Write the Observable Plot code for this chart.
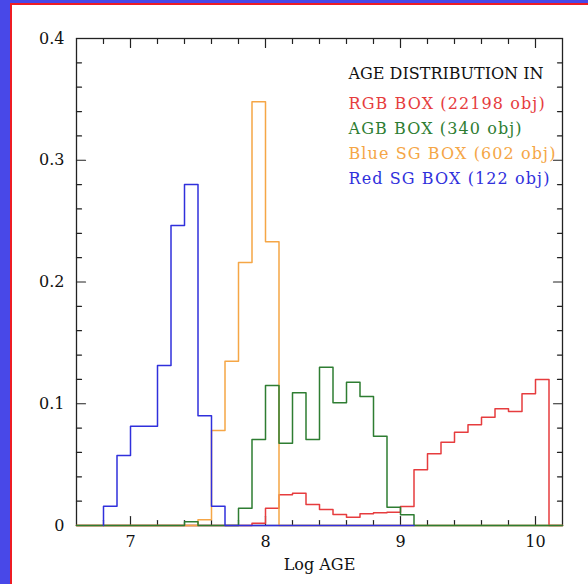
<!DOCTYPE html>
<html><head><meta charset="utf-8">
<script src="https://cdn.jsdelivr.net/npm/d3@7"></script>
<script src="https://cdn.jsdelivr.net/npm/@observablehq/plot@0.6"></script>
<style>
html,body{margin:0;padding:0;background:#4848e8;width:588px;height:584px;overflow:hidden;}
#panel{position:absolute;left:10px;top:3px;width:600px;height:600px;background:#fff;border-left:2px solid #ee1c24;border-top:2px solid #ee1c24;}
#chart{position:absolute;left:0;top:0;}
</style></head><body><div id="panel"></div><div id="chart"></div>
<script>
// bin edges (log age), 0.1 wide
const edgesFull = [6.6,6.7,6.8,6.9,7.0,7.1,7.2,7.3,7.4,7.5,7.6,7.7,7.8,7.9,8.0,8.1,8.2,8.3,8.4,8.5,8.6,8.7,8.8,8.9,9.0,9.1,9.2,9.3,9.4,9.5,9.6,9.7,9.8,9.9,10.0,10.1,10.2];
const edgesRedSG = [6.8,6.9,7.0,7.1,7.2,7.3,7.4,7.5,7.6,7.7,7.8,7.9,8.0,8.1,8.2,8.3,8.4,8.5,8.6,8.7,8.8,8.9,9.0,9.1];

// fractions per bin
const rgb = [0,0,0,0,0,0,0,0,0,0,0,0,0,0.0019,0.0142,0.0252,0.0265,0.0172,0.0131,0.009,0.0068,0.0096,0.0104,0.0109,0.0156,0.0457,0.0589,0.0684,0.0766,0.0827,0.089,0.0958,0.0936,0.1082,0.1199,0];
const agb = [0,0,0,0,0,0,0,0,0.003,0,0,0,0.0142,0.0706,0.115,0.0676,0.109,0.0706,0.130,0.1008,0.1177,0.106,0.0733,0.015,0.0088,0,0,0,0,0,0,0,0,0,0,0];
const blueSG = [0,0,0,0,0,0,0,0,0,0.0047,0.078,0.135,0.216,0.348,0.233,0,0,0,0,0,0,0,0,0,0,0,0,0,0,0,0,0,0,0,0,0];
const redSG = [0.0159,0.0575,0.0816,0.0816,0.1314,0.2464,0.2801,0.0901,0.0159,0,0,0,0,0,0,0,0,0,0,0,0,0,0];

const legendTitle = "AGE DISTRIBUTION IN";
const legendLabels = ["RGB BOX (22198 obj)","AGB BOX (340 obj)","Blue SG BOX (602 obj)","Red SG BOX (122 obj)"];
const colors = ["#e63c3e","#2e7d32","#f5a646","#3030dc"];

const xMajor = [7,8,9,10];
const xMinor = [6.8,7.2,7.4,7.6,7.8,8.2,8.4,8.6,8.8,9.2,9.4,9.6,9.8];
const xTickLabels = ["7","8","9","10"];
const yMajor = [0,0.1,0.2,0.3,0.4];
const yMinor = [0.02,0.04,0.06,0.08,0.12,0.14,0.16,0.18,0.22,0.24,0.26,0.28,0.32,0.34,0.36,0.38];
const yTickLabels = ["0","0.1","0.2","0.3","0.4"];

function steps(edges, values) {
  const pts = [{x: edges[0], y: 0}];
  values.forEach((v, i) => pts.push({x: edges[i], y: v}));
  const n = values.length;
  pts.push({x: edges[n], y: values[n - 1]});
  pts.push({x: edges[n], y: 0});
  return pts;
}
const series = [
  steps(edgesFull, rgb),
  steps(edgesFull, blueSG),
  steps(edgesFull, agb),
  steps(edgesRedSG, redSG)
];
const seriesColors = [colors[0], colors[2], colors[1], colors[3]];

const tickShape = {draw(context, l) { context.moveTo(0, 0); context.lineTo(0, -l); }};
const tk = "#222";
function ticks(vals, len, kind) {
  const o = {length: len, anchor: "start", shape: tickShape, stroke: tk, strokeWidth: 1.2};
  if (kind === "b") return Plot.vectorX(vals, {...o, x: d => d, frameAnchor: "bottom", rotate: 0});
  if (kind === "t") return Plot.vectorX(vals, {...o, x: d => d, frameAnchor: "top", rotate: 180});
  if (kind === "l") return Plot.vectorY(vals, {...o, y: d => d, frameAnchor: "left", rotate: 90});
  return Plot.vectorY(vals, {...o, y: d => d, frameAnchor: "right", rotate: 270});
}

const legendItems = [legendTitle, ...legendLabels];
const legendColors = ["#111", ...colors];
const legendDy = [35, 65, 90, 115, 140];

const chart = Plot.plot({
  width: 588, height: 584,
  marginLeft: 76, marginRight: 26, marginTop: 38, marginBottom: 59,
  style: {background: "transparent", fontFamily: "DejaVu Serif", fontSize: "16px", color: "#111"},
  x: {domain: [6.6, 10.2]},
  y: {domain: [0, 0.4]},
  marks: [
    ticks(xMajor, 9, "b"), ticks(xMinor, 5, "b"),
    ticks(xMajor, 9, "t"), ticks(xMinor, 5, "t"),
    ticks(yMajor, 9, "l"), ticks(yMinor, 5, "l"),
    ticks(yMajor, 9, "r"), ticks(yMinor, 5, "r"),
    Plot.frame({stroke: tk, strokeWidth: 1.3}),
    ...series.map((s, i) => Plot.line(s, {x: "x", y: "y", curve: "step-after", stroke: seriesColors[i], strokeWidth: 1.5})),
    Plot.axisX({ticks: xMajor, tickSize: 0, tickPadding: 10, fontSize: 16, tickFormat: (d, i) => xTickLabels[i],
      label: "Log AGE", labelAnchor: "center", labelOffset: 44, labelArrow: "none"}),
    Plot.axisY({ticks: yMajor, tickSize: 0, tickPadding: 12, fontSize: 16, tickFormat: (d, i) => yTickLabels[i], label: null}),
    ...legendItems.map((t, i) => Plot.text([t], {text: d => d, frameAnchor: "top-left", dx: 272, dy: legendDy[i], fill: legendColors[i],
      textAnchor: "start", lineAnchor: "middle", fontSize: 16}))
  ]
});
d3.select(chart).selectAll("text").filter(function() { return legendLabels.includes(this.textContent); })
  .style("letter-spacing", "1.1px");
document.getElementById("chart").appendChild(chart);
</script></body></html>
